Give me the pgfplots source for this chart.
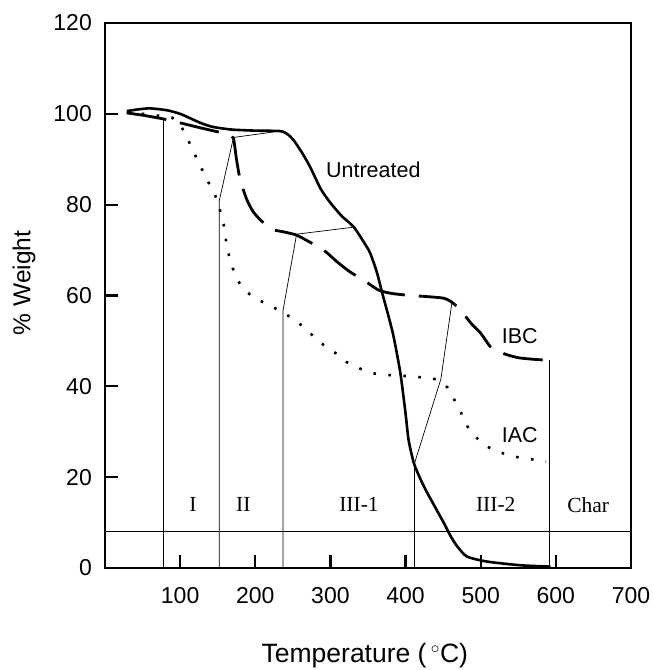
\documentclass[border=0pt]{standalone}
\usepackage{fontspec}
\setmainfont{Liberation Sans}
\newfontfamily\seriffont{Liberation Serif}
\usepackage{pgfplots}
\pgfplotsset{compat=1.18}
\begin{document}
\begin{tikzpicture}
\useasboundingbox (-105bp,-102bp) rectangle (549bp,568bp);
\begin{axis}[
  at={(0,0)}, anchor=south west,
  scale only axis, width=526bp, height=545bp,
  xmin=0, xmax=700, ymin=0, ymax=120,
  xtick={100,200,...,700}, ytick={0,20,...,120},
  tick align=inside, tick pos=left,
  major tick length=13bp,
  every tick/.style={line width=2.2bp, black},
  axis line style={line width=2bp},
  /pgf/number format/assume math mode=true,
  tick label style={font=\fontsize{23bp}{27bp}\selectfont, inner sep=0pt},
  xticklabel style={anchor=north, yshift=-19bp},
  yticklabel style={anchor=east, xshift=-13bp},
  xlabel={Temperature (\,$^{\circ}$C)},
  ylabel={\% Weight},
  xlabel style={font=\fontsize{26.5bp}{30bp}\selectfont, at={(axis description cs:0.494,-0.160)}, anchor=center},
  ylabel style={font=\fontsize{24.5bp}{29bp}\selectfont, at={(axis description cs:-0.154,0.523)}, anchor=center},
  clip=false,
]
% thin guide lines
\addplot[black, line width=0.7bp] coordinates {(77,0)(77,99.1)};
\addplot[black, line width=0.7bp] coordinates {(152,0)(152,80.8)(171,94.8)(233,96.2)};
\addplot[black, line width=0.7bp] coordinates {(237,0)(237,56.8)(255,73.5)(329,75)};
\addplot[black, line width=0.7bp] coordinates {(412,0)(412,23.1)(447,41.6)(462,58.8)};
\addplot[black, line width=0.7bp] coordinates {(592,0)(592,45.7)};
\addplot[black, line width=0.7bp] coordinates {(0,8.1)(700,8.1)};
% Untreated
\addplot[black, line width=2.6bp, smooth, tension=0.4] coordinates {
(29,100.6)(45,101.0)(60,101.2)(82,100.8)(100,100.0)(115,98.9)(130,97.8)(144,97.1)(160,96.7)(171,96.5)(200,96.3)(233,96.2)(243,95.5)(251,94.2)(262,91.5)(273,88.3)(287,83.5)(300,80.4)(315,77.5)(331,75.1)(345,71.6)(353,69.3)(362,65)(369,60.5)(378,55)(384,51)(393,43)(400,34)(404,28.2)(411,23.1)(420,19.5)(429,16.5)(440,13.2)(451,9.9)(460,7)(469,4.7)(482,2.5)(509,1.4)(553,0.6)(593,0.3)};
% IBC
\addplot[black, line width=2.8bp, smooth, tension=0.4, dash pattern=on 40bp off 14bp] coordinates {
(29,100.2)(50,99.7)(77,98.9)(100,98.0)(130,96.8)(156,95.8)(166,95.2)(171,94.6)(175,90)(180,85.4)(189,81)(197,78.5)(207,76.6)(222,74.6)(238,74)(255,73.3)(272,71.8)(291,70)(309,67.4)(326,65.2)(344,63.4)(364,61.2)(380,60.5)(400,60.1)(433,59.7)(451,59.4)(460,58.7)(469,57.5)(478,55.8)(487,53.9)(500,51.7)(513,48.7)(525,47.6)(536,46.9)(550,46.3)(567,46)(592,45.7)};
% IAC
\addplot[black, line width=2.6bp, smooth, tension=0.4, dash pattern=on 2.6bp off 12.4bp] coordinates {
(29,100.4)(50,100.0)(70,99.6)(89,99.2)(102,97.0)(111,94.1)(120,90.9)(129,87.8)(138,84.8)(147,81.9)(153,78.8)(159,74.8)(162,70.9)(168,67.1)(175,63.8)(186,61.2)(200,59.4)(216,58.1)(233,56.6)(249,55.0)(264,53.1)(277,51.1)(291,49.1)(307,47.3)(321,45.4)(338,44.0)(356,42.9)(376,42.5)(398,42.3)(420,42.0)(441,41.5)(456,39.7)(465,37.0)(474,34.1)(483,31.0)(495,28.6)(509,26.7)(527,25.4)(546,24.5)(566,24.0)(587,23.4)};
% labels
\node[font=\fontsize{21.5bp}{25bp}\selectfont] at (axis cs:357,87.6) {Untreated};
\node[font=\fontsize{21.5bp}{25bp}\selectfont] at (axis cs:552,51) {IBC};
\node[font=\fontsize{21.5bp}{25bp}\selectfont] at (axis cs:552,29.3) {IAC};
\node[font=\seriffont\fontsize{21.5bp}{25bp}\selectfont] at (axis cs:117,13.9) {I};
\node[font=\seriffont\fontsize{21.5bp}{25bp}\selectfont] at (axis cs:184,13.9) {II};
\node[font=\seriffont\fontsize{21.5bp}{25bp}\selectfont] at (axis cs:338,13.9) {III-1};
\node[font=\seriffont\fontsize{21.5bp}{25bp}\selectfont] at (axis cs:520,13.9) {III-2};
\node[font=\seriffont\fontsize{21.5bp}{25bp}\selectfont] at (axis cs:643,13.9) {Char};
\end{axis}
\end{tikzpicture}
\end{document}
